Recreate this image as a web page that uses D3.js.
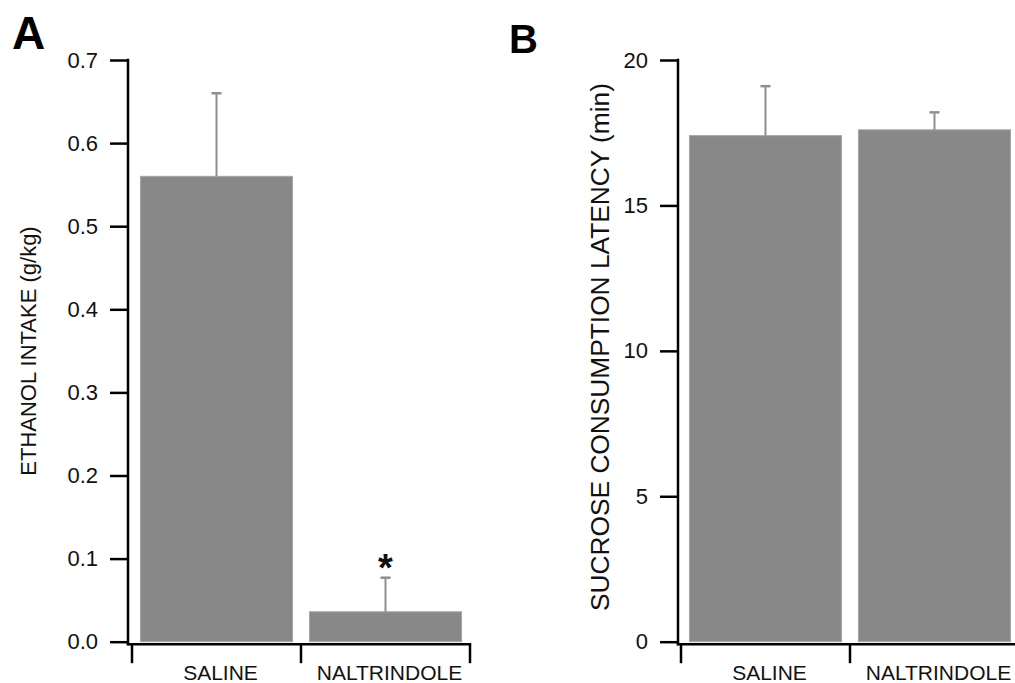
<!DOCTYPE html>
<html>
<head>
<meta charset="utf-8">
<script src="https://cdn.jsdelivr.net/npm/d3@7"></script>
<style>
  html, body { margin: 0; padding: 0; background: #fff; }
  svg { display: block; }
  text { font-family: "Liberation Sans", Arial, Helvetica, sans-serif; }
</style>
</head>
<body>
<svg id="chart" width="1015" height="683"></svg>
<script>
// ---- data ----
const categories = ["SALINE", "NALTRINDOLE"];
const ethanolMean = [0.56, 0.036];
const ethanolErr = [0.10, 0.041];
const ethanolTicks = [0.0, 0.1, 0.2, 0.3, 0.4, 0.5, 0.6, 0.7];
const sucroseMean = [17.4, 17.6];
const sucroseErr = [1.7, 0.6];
const sucroseTicks = [0, 5, 10, 15, 20];
const significant = [false, true];

const svg = d3.select("#chart");
const barFill = "#888888";
const errColor = "#8e8e8e";

function panel(opts) {
  const g = svg.append("g");
  const y = d3.scaleLinear().domain(opts.domain).range([641.7, 60]);
  const x = d3.scaleBand().domain(categories).range([opts.x0, opts.x0 + 338]).paddingInner(0.1).paddingOuter(0.05);

  // y axis
  const yAxis = d3.axisLeft(y).tickValues(opts.ticks).tickFormat(opts.fmt)
    .tickSize(18).tickPadding(12).tickSizeOuter(0);
  const ya = g.append("g").attr("transform", `translate(${opts.yx},0)`).call(yAxis);
  ya.select(".domain").remove();
  ya.selectAll(".tick line").attr("stroke", "#000").attr("stroke-width", 2.5);
  ya.selectAll(".tick text").attr("font-size", 22).attr("fill", "#111")
    .attr("font-family", "Liberation Sans, Arial, sans-serif");
  g.append("line").attr("x1", opts.yx).attr("x2", opts.yx)
    .attr("y1", y(opts.domain[1]) - 1.2).attr("y2", y(0) + 3.5)
    .attr("stroke", "#000").attr("stroke-width", 2.5);

  // x axis
  const xAxisY = y(0) + 2.5;
  const xr = x.range();
  g.append("line").attr("x1", opts.yx - 1.2).attr("x2", xr[1] + 1.2)
    .attr("y1", xAxisY).attr("y2", xAxisY).attr("stroke", "#000").attr("stroke-width", 2.5);
  const bounds = [xr[0]].concat(categories.map(c => x(c) + x.bandwidth() + x.step() * 0.05));
  g.selectAll(".xt").data(bounds).enter().append("line")
    .attr("x1", d => d).attr("x2", d => d)
    .attr("y1", xAxisY).attr("y2", xAxisY + 19)
    .attr("stroke", "#000").attr("stroke-width", 2.5);
  g.selectAll(".xl").data(categories).enter().append("text")
    .attr("x", d => x(d) + x.bandwidth() / 2 + 4)
    .attr("y", 680)
    .attr("text-anchor", "middle")
    .attr("font-size", 21)
    .attr("fill", "#111")
    .text(d => d);

  // bars
  g.selectAll(".bar").data(opts.mean).enter().append("rect")
    .attr("x", (d, i) => x(categories[i]))
    .attr("width", x.bandwidth())
    .attr("y", d => y(d))
    .attr("height", d => y(0) - y(d))
    .attr("fill", barFill)
    .attr("stroke", "#a6a6a6").attr("stroke-width", 1);

  // error bars
  const cx = i => x(categories[i]) + x.bandwidth() / 2;
  g.selectAll(".err").data(opts.mean).enter().append("line")
    .attr("x1", (d, i) => cx(i)).attr("x2", (d, i) => cx(i))
    .attr("y1", d => y(d)).attr("y2", (d, i) => y(d + opts.err[i]))
    .attr("stroke", errColor).attr("stroke-width", 2);
  g.selectAll(".cap").data(opts.mean).enter().append("line")
    .attr("x1", (d, i) => cx(i) - 5).attr("x2", (d, i) => cx(i) + 5)
    .attr("y1", (d, i) => y(d + opts.err[i])).attr("y2", (d, i) => y(d + opts.err[i]))
    .attr("stroke", errColor).attr("stroke-width", 2.5);

  if (opts.sig) {
    const idx = opts.sig.map((s, i) => s ? i : -1).filter(i => i >= 0);
    g.selectAll(".sig").data(idx).enter().append("text")
      .attr("x", i => cx(i))
      .attr("y", i => y(opts.mean[i] + opts.err[i]) + 3)
      .attr("text-anchor", "middle")
      .attr("font-size", 38)
      .attr("font-weight", "bold")
      .attr("fill", "#111")
      .text("*");
  }

  // y label
  g.append("text")
    .attr("transform", `translate(${opts.labX},${opts.labY}) rotate(-90)`)
    .attr("text-anchor", "middle")
    .attr("font-size", opts.labSize)
    .attr("fill", "#111")
    .text(opts.label);

  // panel letter
  g.append("text").attr("x", opts.letterX).attr("y", opts.letterY)
    .attr("font-size", opts.letterSize).attr("font-weight", "bold").attr("fill", "#000")
    .text(opts.letter);
}

panel({
  domain: [0, 0.7], ticks: ethanolTicks, fmt: d3.format(".1f"),
  mean: ethanolMean, err: ethanolErr, sig: significant,
  yx: 128, x0: 132,
  label: "ETHANOL INTAKE (g/kg)", labX: 36, labY: 351, labSize: 22,
  letter: "A", letterX: 12, letterY: 49, letterSize: 46
});

panel({
  domain: [0, 20], ticks: sucroseTicks, fmt: d3.format("d"),
  mean: sucroseMean, err: sucroseErr, sig: null,
  yx: 678, x0: 681,
  label: "SUCROSE CONSUMPTION LATENCY (min)", labX: 609, labY: 347, labSize: 26.3,
  letter: "B", letterX: 509, letterY: 53, letterSize: 40
});
</script>
</body>
</html>
